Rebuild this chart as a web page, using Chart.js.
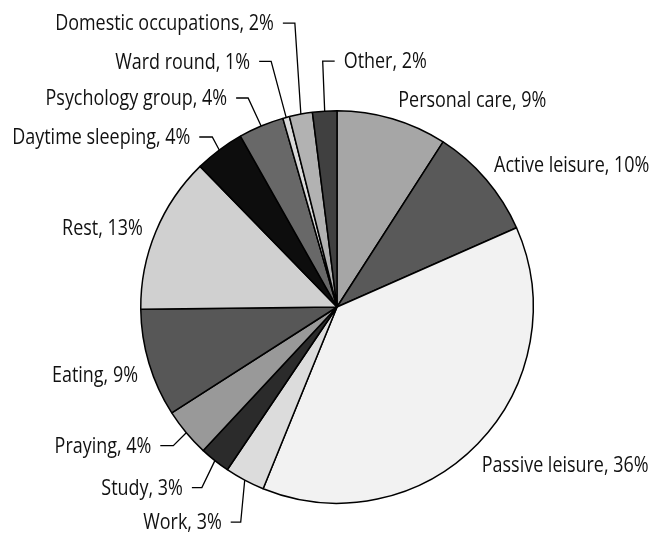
<!DOCTYPE html>
<html><head><meta charset="utf-8">
<script src="https://cdn.jsdelivr.net/npm/chart.js@4"></script>
<style>html,body{margin:0;padding:0;background:#fff}#wrap{width:654px;height:533px;position:relative}</style>
</head><body><div id="wrap"><canvas id="c" width="654" height="533"></canvas></div>
<script>
// ---- data ----
const categories = ['Personal care','Active leisure','Passive leisure','Work','Study','Praying','Eating','Rest','Daytime sleeping','Psychology group','Ward round','Domestic occupations','Other'];
const shareValues = [9.1, 9.3, 37.8, 3.3, 2.5, 4.0, 8.9, 12.9, 4.1, 3.75, 0.55, 1.9, 2.0];
const percentLabels = ['9%','10%','36%','3%','3%','4%','9%','13%','4%','4%','1%','2%','2%'];

// ---- style ----
const sliceColors = ['#a6a6a6','#595959','#f2f2f2','#dcdcdc','#2b2b2b','#999999','#575757','#d0d0d0','#0d0d0d','#686868','#d9d9d9','#b2b2b2','#404040'];
const labelLayout = [
  {dx:6, dy:-18, align:'left'},
  {dx:8, dy:-14, align:'left'},
  {dx:4, dy:22, align:'left'},
  {leader:true, dx:-4, dy:42, len:-10},
  {leader:true, dx:-13, dy:27, len:-10},
  {leader:true, dx:-13, dy:13, len:-13},
  {dx:-11, dy:13, align:'right'},
  {dx:-13, dy:-3, align:'right'},
  {leader:true, dx:-7, dy:-13, len:-13},
  {leader:true, dx:-13, dy:-28, len:-12},
  {leader:true, dx:-15, dy:-56, len:-12},
  {leader:true, dx:-6, dy:-91, len:-12},
  {leader:true, dx:-2, dy:-50, len:12}
];
const FONT = '22px "Open Sans", "Noto Sans", sans-serif';
const CONDENSE = 0.815;

function drawText(ctx, text, x, y, align) {
  ctx.save();
  ctx.translate(x, y);
  ctx.scale(CONDENSE, 1);
  ctx.textAlign = align;
  ctx.fillText(text, 0, 0);
  ctx.restore();
}

const outsideLabels = {
  id: 'outsideLabels',
  afterDatasetsDraw(chart) {
    const ctx = chart.ctx;
    const meta = chart.getDatasetMeta(0);
    ctx.save();
    ctx.font = FONT;
    ctx.fillStyle = '#111';
    ctx.strokeStyle = '#000';
    ctx.lineWidth = 1.3;
    ctx.textBaseline = 'middle';
    meta.data.forEach((arc, i) => {
      const p = arc.getProps(['x','y','startAngle','endAngle','outerRadius'], true);
      const mid = (p.startAngle + p.endAngle) / 2;
      const px = p.x + Math.cos(mid) * p.outerRadius;
      const py = p.y + Math.sin(mid) * p.outerRadius;
      const L = labelLayout[i];
      const text = categories[i] + ', ' + percentLabels[i];
      if (L.leader) {
        const ex = px + L.dx, ey = py + L.dy;
        const hx = ex + L.len;
        ctx.beginPath();
        ctx.moveTo(px, py);
        ctx.lineTo(ex, ey);
        ctx.lineTo(hx, ey);
        ctx.stroke();
        const gap = 9;
        if (L.len < 0) drawText(ctx, text, hx - gap, ey + 1, 'right');
        else drawText(ctx, text, hx + gap, ey + 1, 'left');
      } else {
        drawText(ctx, text, px + L.dx, py + L.dy, L.align);
      }
    });
    ctx.restore();
  }
};

new Chart(document.getElementById('c'), {
  type: 'pie',
  data: {
    labels: categories,
    datasets: [{
      data: shareValues,
      backgroundColor: sliceColors,
      borderColor: '#000',
      borderWidth: 1.5
    }]
  },
  options: {
    responsive: false,
    animation: false,
    layout: { padding: { top: 110, left: 140, right: 120, bottom: 29 } },
    plugins: { legend: { display: false }, tooltip: { enabled: false } }
  },
  plugins: [outsideLabels]
});
</script>
</body></html>
